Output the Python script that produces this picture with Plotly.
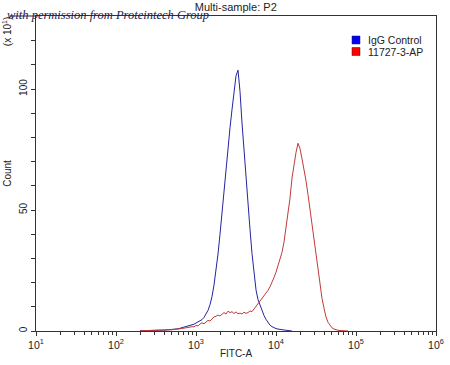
import numpy as np
import plotly.graph_objects as go

# Histogram bin centres (log10 of FITC-A), regular channel grid
LOG_START = 2.3
LOG_STEP = 0.025

igg_counts = [
    0.1, 0.1, 0.2, 0.1, 0.2, 0.2, 0.3, 0.2, 0.3, 0.3, 0.4, 0.3, 0.4,
    0.4, 0.5, 0.5, 0.6, 0.7, 0.8, 0.9, 1.1,
    1.3, 1.5, 1.7, 1.9, 2.1, 2.3, 2.8, 3.3,
    3.8, 4.1, 4.7, 5.6, 6.9, 8.5, 10.9, 14.2, 19.0, 25.0, 31.8, 40.0, 49.5,
    58.5, 67.5, 76.0, 84.0, 91.5, 99.0, 105.5, 107.8, 99.0, 86.0, 74.0,
    64.0, 53.0, 42.0, 32.0, 24.0, 17.0, 13.0, 10.5, 8.3, 6.4, 4.8, 3.4,
    2.4, 1.8, 1.3, 1.0, 0.8, 0.6, 0.5, 0.4, 0.3, 0.2, 0.1, 0.0,
]

ab_counts = [
    0.1, 0.1, 0.2, 0.1, 0.2, 0.2, 0.3, 0.2, 0.3, 0.3, 0.4, 0.3, 0.4,
    0.5, 0.4, 0.5, 0.5, 0.7, 0.6, 0.8, 0.9, 1.0, 1.2, 1.1, 1.4, 1.6, 1.8,
    1.7, 2.3, 2.1, 2.9, 3.4, 3.0, 3.9, 4.4, 4.1, 5.2, 5.8, 6.1, 6.6, 6.2,
    7.1, 7.6, 7.0, 8.2, 7.6, 8.0, 7.2, 7.9, 7.1, 7.4, 7.0, 7.8, 7.3, 7.6,
    8.3, 8.0, 9.1, 10.2, 11.2, 12.4, 13.3, 14.6, 15.5, 16.8, 18.3, 19.9,
    22.1, 24.3, 27.2, 29.6, 32.5, 36.8, 42.3, 48.1, 54.9, 63.2, 69.5, 73.8,
    77.6, 75.4, 71.2, 67.3, 62.1, 56.4, 50.2, 43.6, 36.8, 30.2, 24.3, 18.6,
    13.5, 9.4, 5.8, 3.6, 2.2, 1.3, 0.8, 0.4, 0.3, 0.2, 0.1, 0.1, 0.0, 0.0,
]

series_names = ["IgG Control", "11727-3-AP"]
line_colors = ["#2424a0", "#c03a3a"]
legend_fill = ["#0000ff", "#ff0000"]

x_tickvals = [1e1, 1e2, 1e3, 1e4, 1e5, 1e6]
x_ticktext = ["10<sup>1</sup>", "10<sup>2</sup>", "10<sup>3</sup>",
              "10<sup>4</sup>", "10<sup>5</sup>", "10<sup>6</sup>"]
x_minor = [m * 10 ** d for d in range(1, 6) for m in range(2, 10)]
y_tickvals = [0, 50, 100]
y_minor = [10, 20, 30, 40, 60, 70, 80, 90, 110, 120]

def fitc(n):
    return [10 ** (LOG_START + LOG_STEP * i) for i in range(n)]

FONT = "Liberation Sans, Arial, sans-serif"

fig = go.Figure()
for counts, name, col in zip([igg_counts, ab_counts], series_names, line_colors):
    fig.add_trace(go.Scatter(
        x=fitc(len(counts)), y=counts, mode="lines", name=name,
        line=dict(color=col, width=1), showlegend=False,
        hoverinfo="skip",
    ))

fig.update_layout(
    width=450, height=365,
    margin=dict(l=36, r=14, t=16, b=34, autoexpand=False),
    paper_bgcolor="white", plot_bgcolor="white",
    font=dict(family=FONT, size=10, color="#222222"),
    title=dict(text="Multi-sample: P2", x=0.524, xanchor="center",
               y=1 - 7 / 365, yanchor="middle",
               font=dict(family=FONT, size=11, color="#222222")),
    showlegend=False,
)

fig.update_xaxes(
    type="log", range=[1, 6], automargin=False,
    tickmode="array", tickvals=x_tickvals, ticktext=x_ticktext,
    ticks="outside", ticklen=4, tickcolor="#333333", tickwidth=1,
    minor=dict(tickvals=x_minor, ticks="outside", ticklen=3,
               tickcolor="#333333"),
    showline=True, linecolor="#333333", linewidth=1, mirror=True,
    showgrid=False, zeroline=False,
    title=dict(text="FITC-A", standoff=0, font=dict(size=10)),
    tickfont=dict(size=10.5),
)
fig.update_yaxes(
    range=[0, 130.2], automargin=False,
    tickmode="array", tickvals=y_tickvals, ticktext=["0", "50", "100"],
    tickangle=-90,
    ticks="outside", ticklen=4, tickcolor="#333333", tickwidth=1,
    minor=dict(tickvals=y_minor, ticks="outside", ticklen=4,
               tickcolor="#333333"),
    showline=True, linecolor="#333333", linewidth=1, mirror=True,
    showgrid=False, zeroline=False,
    title=dict(text="Count", standoff=4, font=dict(size=10)),
    tickfont=dict(size=10),
)

# exponent label
fig.add_annotation(
    text="(x 10<sup>1</sup>)", xref="paper", yref="paper",
    x=-0.072, y=(331 - 32) / 315, textangle=-90, showarrow=False,
    xanchor="center", yanchor="middle", font=dict(size=10, color="#222222"),
)

# watermark
fig.add_annotation(
    text="<i>with permission from Proteintech Group</i>",
    xref="paper", yref="paper", x=(5 - 36) / 400, y=(331 - 15) / 315,
    xanchor="left", yanchor="middle", showarrow=False,
    font=dict(family="Liberation Serif, serif", size=12.5, color="#1c1c50"),
)
fig.add_shape(type="line", xref="paper", yref="paper",
              x0=(10 - 36) / 400, x1=0, y0=1, y1=1,
              line=dict(color="#1c1c50", width=1))

# legend (squares + labels)
for i, (name, fill) in enumerate(zip(series_names, legend_fill)):
    yc = 40 + 11.5 * i
    fig.add_shape(type="rect", xref="paper", yref="paper",
                  x0=(352 - 36) / 400, x1=(360 - 36) / 400,
                  y0=(331 - yc - 4) / 315, y1=(331 - yc + 4) / 315,
                  fillcolor=fill, line=dict(color="#202020", width=0.5))
    fig.add_annotation(
        text=name, xref="paper", yref="paper",
        x=(366 - 36) / 400, y=(331 - yc) / 315,
        xanchor="left", yanchor="middle", showarrow=False,
        font=dict(size=10.5, color="#222222"),
    )

fig.write_html(
    "out.html",
    config={"displayModeBar": False},
    post_script="document.body.style.margin='0';document.body.style.overflow='hidden';",
)
